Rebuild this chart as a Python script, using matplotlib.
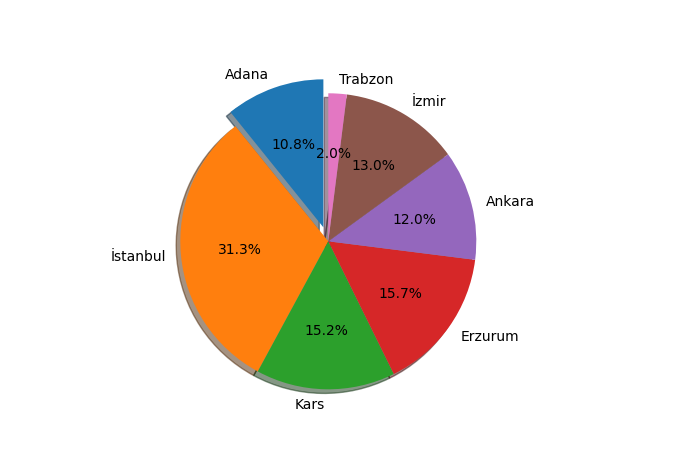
import matplotlib
matplotlib.use("Agg")
import matplotlib.pyplot as plt

cities = ["Adana", "İstanbul", "Kars", "Erzurum", "Ankara", "İzmir", "Trabzon"]
shares = [10.8, 31.3, 15.2, 15.7, 12.0, 13.0, 2.0]
explode = [0.1, 0, 0, 0, 0, 0, 0]

W, H = 681, 460
cx, cy, r = 328.3, 217.7, 148.0   # pie centre and radius in pixels

fig = plt.figure(figsize=(W / 100, H / 100), dpi=100)
side = 2.5 * r
ax = fig.add_axes([(cx - side / 2) / W, (cy - side / 2) / H, side / W, side / H])
ax.pie(shares, labels=cities, explode=explode, autopct="%1.1f%%",
       shadow=True, startangle=90)
ax.set_xlim(-1.25, 1.25)
ax.set_ylim(-1.25, 1.25)
ax.set_aspect("equal")
fig.savefig("out.png", dpi=100)
